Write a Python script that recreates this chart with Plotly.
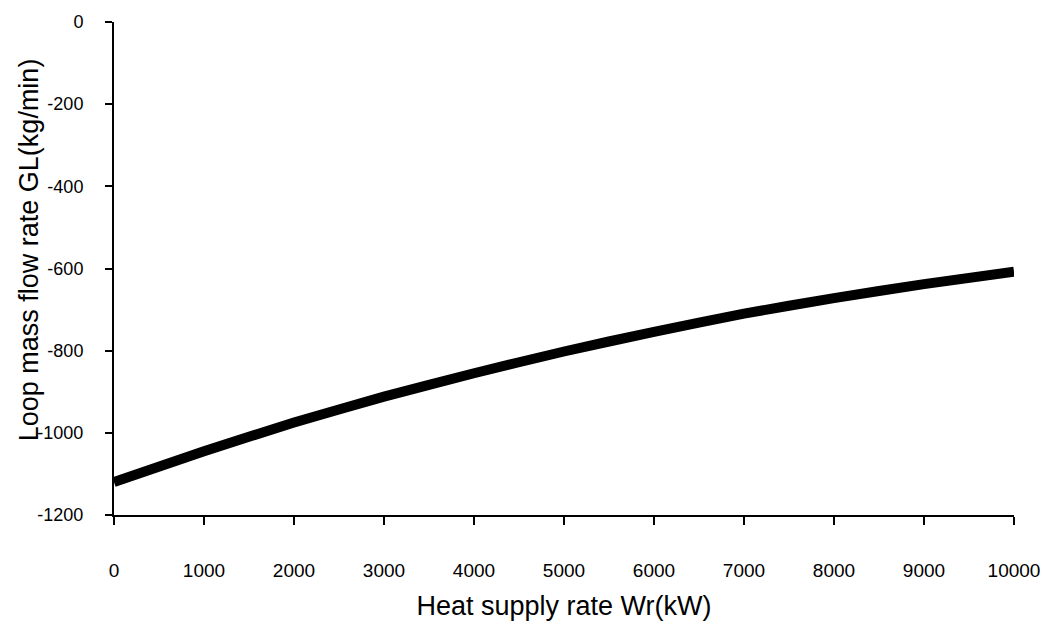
import plotly.graph_objects as go

# Heat supply rate (kW) and the resulting loop mass flow rate (kg/min)
heat_kw = [0, 1000, 2000, 3000, 4000, 5000, 6000, 7000, 8000, 9000, 10000]
loop_flow = [-1120, -1045, -975, -912, -855, -802, -754, -710, -672, -638, -608]

x_ticks = [0, 1000, 2000, 3000, 4000, 5000, 6000, 7000, 8000, 9000, 10000]
y_ticks = [0, -200, -400, -600, -800, -1000, -1200]

x_title = "Heat supply rate Wr(kW)"
y_title = "Loop mass flow rate GL(kg/min)"

FONT = "Liberation Sans, Arial, sans-serif"
INK = "#000000"

fig = go.Figure(
    go.Scatter(
        x=heat_kw,
        y=loop_flow,
        mode="lines",
        line=dict(color=INK, width=10, shape="spline", smoothing=0.6),
        showlegend=False,
        hoverinfo="skip",
    )
)

fig.update_layout(
    width=1053,
    height=630,
    paper_bgcolor="white",
    plot_bgcolor="white",
    margin=dict(l=114, r=39, t=17, b=115),
    font=dict(family=FONT, color=INK),
)

fig.update_xaxes(
    range=[0, 10000],
    tickvals=x_ticks,
    ticktext=[str(v) for v in x_ticks],
    ticks="outside",
    ticklen=8,
    tickwidth=1.5,
    tickcolor=INK,
    ticklabelstandoff=29,
    tickfont=dict(size=19, family=FONT, color=INK),
    showline=True,
    linecolor=INK,
    linewidth=2,
    showgrid=False,
    zeroline=False,
    title=dict(
        text=x_title,
        font=dict(size=27, family=FONT, color=INK),
        standoff=16,
    ),
)

fig.update_yaxes(
    range=[-1200, 0],
    tickvals=y_ticks,
    ticktext=[str(v) for v in y_ticks],
    ticks="outside",
    ticklen=7,
    tickwidth=1.5,
    tickcolor=INK,
    ticklabelstandoff=18,
    tickfont=dict(size=18, family=FONT, color=INK),
    showline=True,
    linecolor=INK,
    linewidth=2,
    showgrid=False,
    zeroline=False,
)

# Vertical axis title, set slightly above the plot centre
fig.add_annotation(
    text=y_title,
    textangle=-90,
    xref="paper",
    yref="paper",
    x=-0.095,
    y=0.538,
    xanchor="center",
    yanchor="middle",
    showarrow=False,
    font=dict(size=27, family=FONT, color=INK),
)

fig.write_html("out.html")
